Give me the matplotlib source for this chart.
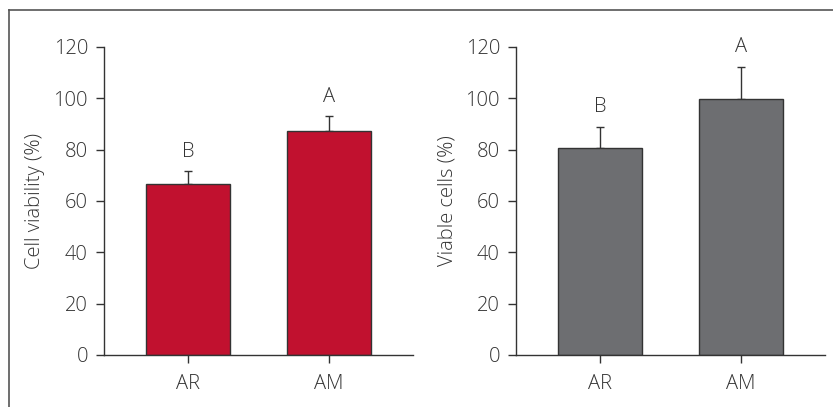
import matplotlib.pyplot as plt
from matplotlib.lines import Line2D

plt.rcParams['font.family'] = ['Open Sans', 'DejaVu Sans']
plt.rcParams['font.weight'] = 'light'
plt.rcParams['axes.labelweight'] = 'light'

groups = ['AR', 'AM']
viability = [66.5, 87.3]
viability_err = [5.0, 5.7]
viability_letters = ['B', 'A']
viable = [80.8, 99.8]
viable_err = [8.0, 12.4]
viable_letters = ['B', 'A']
yticks = [0, 20, 40, 60, 80, 100, 120]

text_col = '#333333'
fs = 14.5
fig = plt.figure(figsize=(8.33, 4.07), dpi=100)

def panel(rect, vals, errs, letters, color, ylabel):
    ax = fig.add_axes(rect)
    x = range(len(groups))
    ax.bar(x, vals, width=0.6, color=color, edgecolor='#333333', linewidth=1.0, zorder=2)
    ax.errorbar(x, vals, yerr=[[0] * len(errs), errs], fmt='none', ecolor='#333333',
                elinewidth=1.0, capsize=3, capthick=1.0, zorder=1)
    for xi, v, e, lab in zip(x, vals, errs, letters):
        ax.annotate(lab, (xi, v + e), xytext=(0, 7), textcoords='offset points',
                    ha='center', va='bottom', fontsize=fs, color=text_col)
    ax.set_xlim(-0.6, 1.6)
    ax.set_ylim(0, 120)
    ax.set_yticks(yticks)
    ax.set_xticks(list(x))
    ax.set_xticklabels(groups)
    ax.set_ylabel(ylabel, fontsize=fs, fontweight='light', color=text_col, labelpad=6)
    for s in ['top', 'right']:
        ax.spines[s].set_visible(False)
    for s in ['left', 'bottom']:
        ax.spines[s].set_color('#333333')
        ax.spines[s].set_linewidth(1.0)
    ax.tick_params(axis='both', direction='out', length=5.5, width=1.0, color='#333333',
                   labelsize=fs, labelcolor=text_col)
    ax.tick_params(axis='y', pad=6)
    ax.tick_params(axis='x', pad=8)
    return ax

panel([0.1248, 0.1278, 0.371, 0.7568], viability, viability_err, viability_letters,
      '#C1112F', 'Cell viability (%)')
panel([0.6194, 0.1278, 0.371, 0.7568], viable, viable_err, viable_letters,
      '#6D6E71', 'Viable cells (%)')

# outer frame (top and left edges only)
fig.add_artist(Line2D([9 / 833, 1.0], [1 - 10 / 407, 1 - 10 / 407], color='#555555', linewidth=1.2))
fig.add_artist(Line2D([9 / 833, 9 / 833], [0.0, 1 - 10 / 407], color='#555555', linewidth=1.2))

fig.savefig('out.png', dpi=100)
